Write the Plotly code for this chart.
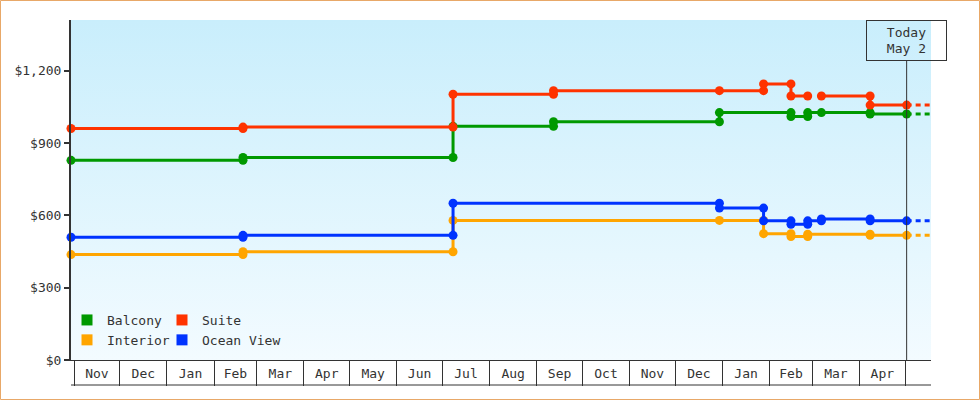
import base64
import plotly.graph_objects as go

# price history, one entry per observation (a change is logged as old + new on the same day)
balcony_dates = ["2016-10-30", "2017-02-20", "2017-02-20", "2017-07-08", "2017-07-08",
                 "2017-09-12", "2017-09-12", "2017-12-30", "2017-12-30", "2018-02-15",
                 "2018-02-15", "2018-02-26", "2018-02-26", "2018-03-07", "2018-04-08",
                 "2018-04-08", "2018-05-02"]
balcony_prices = [828, 828, 840, 840, 969, 969, 988, 988, 1026, 1026,
                  1010, 1010, 1026, 1026, 1026, 1020, 1020]

suite_dates = ["2016-10-30", "2017-02-20", "2017-02-20", "2017-07-08", "2017-07-08",
               "2017-09-12", "2017-09-12", "2017-12-30", "2018-01-28", "2018-01-28",
               "2018-02-15", "2018-02-15", "2018-02-26", "2018-03-01", "2018-03-07",
               "2018-04-08", "2018-04-08", "2018-05-02"]
suite_prices = [960, 960, 966, 966, 1102, 1102, 1117, 1117, 1117, 1145,
                1145, 1095, 1095, None, 1095, 1095, 1057, 1057]

interior_dates = ["2016-10-30", "2017-02-20", "2017-02-20", "2017-07-08", "2017-07-08",
                  "2017-12-30", "2018-01-28", "2018-01-28", "2018-02-15", "2018-02-15",
                  "2018-02-26", "2018-02-26", "2018-04-08", "2018-04-08", "2018-05-02"]
interior_prices = [437, 437, 449, 449, 579, 579, 579, 524, 524, 512,
                   512, 522, 522, 517, 517]

ocean_dates = ["2016-10-30", "2017-02-20", "2017-02-20", "2017-07-08", "2017-07-08",
               "2017-12-30", "2017-12-30", "2018-01-28", "2018-01-28", "2018-02-15",
               "2018-02-15", "2018-02-26", "2018-02-26", "2018-03-07", "2018-03-07",
               "2018-04-08", "2018-04-08", "2018-05-02"]
ocean_prices = [509, 509, 517, 517, 650, 650, 630, 630, 577, 577,
                563, 563, 577, 577, 585, 585, 577, 577]

series_names = ["Balcony", "Suite", "Interior", "Ocean View"]
series_colors = ["#009900", "#ff3300", "#ffa500", "#0033ff"]
legend_ids = ["legend", "legend2", "legend", "legend2"]

today = "2018-05-02"
today_label = "Today<br>May 2"
x_start, x_end = "2016-10-30", "2018-05-18"
y_ticks = [0, 300, 600, 900, 1200]

FONT = "DejaVu Sans Mono"
INK = "#333333"

fig = go.Figure()

all_series = [(balcony_dates, balcony_prices), (suite_dates, suite_prices),
              (interior_dates, interior_prices), (ocean_dates, ocean_prices)]

for (dates, prices), name, color in zip(all_series, series_names, series_colors):
    fig.add_trace(go.Scatter(
        x=dates, y=prices, mode="lines+markers", name=name,
        line=dict(color=color, width=3), connectgaps=False,
        marker=dict(color=color, size=9, symbol="circle"),
        showlegend=False, cliponaxis=False))
    # projected price past today
    fig.add_trace(go.Scatter(
        x=[today, x_end], y=[prices[-1], prices[-1]], mode="lines",
        line=dict(color=color, width=3, dash="5px,4px"), showlegend=False))

# square swatches for the legend
for name, color, leg in zip(series_names, series_colors, legend_ids):
    fig.add_trace(go.Scatter(
        x=[None], y=[None], mode="markers", name=name, legend=leg,
        marker=dict(color=color, size=11, symbol="square")))

svg = ('<svg xmlns="http://www.w3.org/2000/svg" width="10" height="100" viewBox="0 0 10 100" '
       'preserveAspectRatio="none"><defs><linearGradient id="g" x1="0" y1="0" x2="0" y2="1">'
       '<stop offset="0" stop-color="#c9eefc"/><stop offset="1" stop-color="#f3fbff"/>'
       '</linearGradient></defs><rect width="10" height="100" fill="url(#g)"/></svg>')
bg = "data:image/svg+xml;base64," + base64.b64encode(svg.encode()).decode()

W, H = 980, 400
ml, mr, mt, mb = 71, 49, 20, 40
pw, ph = W - ml - mr, H - mt - mb

fig.update_layout(
    width=W, height=H,
    margin=dict(l=ml, r=mr, t=mt, b=mb, autoexpand=False),
    paper_bgcolor="white", plot_bgcolor="rgba(0,0,0,0)",
    font=dict(family=FONT, size=13, color=INK),
    images=[dict(source=bg, xref="paper", yref="paper", x=0, y=1, sizex=1, sizey=1,
                 xanchor="left", yanchor="top", sizing="stretch", layer="below")],
    legend=dict(x=-4 / pw, y=55 / ph, xanchor="left", yanchor="top",
                bgcolor="rgba(0,0,0,0)", font=dict(size=13)),
    legend2=dict(x=91 / pw, y=55 / ph, xanchor="left", yanchor="top",
                 bgcolor="rgba(0,0,0,0)", font=dict(size=13)),
    showlegend=True,
    xaxis=dict(type="date", range=[x_start, x_end], dtick="M1", tick0="2016-11-01",
               tickformat="%b", ticklabelmode="period", ticks="outside", ticklen=25,
               tickwidth=1, tickcolor=INK, showline=True, linecolor=INK, linewidth=1,
               showgrid=False, zeroline=False, ticklabelstandoff=-24,
               ticklabeloverflow="hide past domain"),
    yaxis=dict(range=[0, 1410], tickvals=y_ticks, tickformat="$,d",
               ticks="outside", ticklen=5, tickwidth=2, tickcolor=INK, showline=True,
               linecolor=INK, linewidth=2, showgrid=False, zeroline=False),
    shapes=[
        # bottom edge of the month boxes
        dict(type="line", xref="paper", yref="paper", x0=0, x1=1,
             y0=-25 / ph, y1=-25 / ph, line=dict(color=INK, width=1)),
        # today marker line
        dict(type="line", xref="x", yref="paper", x0=today, x1=today,
             y0=0, y1=1 - 40 / ph, line=dict(color=INK, width=1)),
        # outer frame
        dict(type="rect", xref="paper", yref="paper",
             x0=-(ml - 0.5) / pw, x1=(W - ml - 0.5) / pw,
             y0=-(mb - 0.5) / ph, y1=1 + (mt - 0.5) / ph,
             line=dict(color="#e8a868", width=1)),
    ],
    annotations=[dict(x=today, xref="x", y=1, yref="paper", yanchor="top",
                      text=today_label, showarrow=False, align="center",
                      bordercolor=INK, borderwidth=1, borderpad=1,
                      width=77, height=37, font=dict(size=13, color=INK))],
)

fig.write_html("out.html", config={"displayModeBar": False},
               post_script="document.body.style.margin = '0';")
